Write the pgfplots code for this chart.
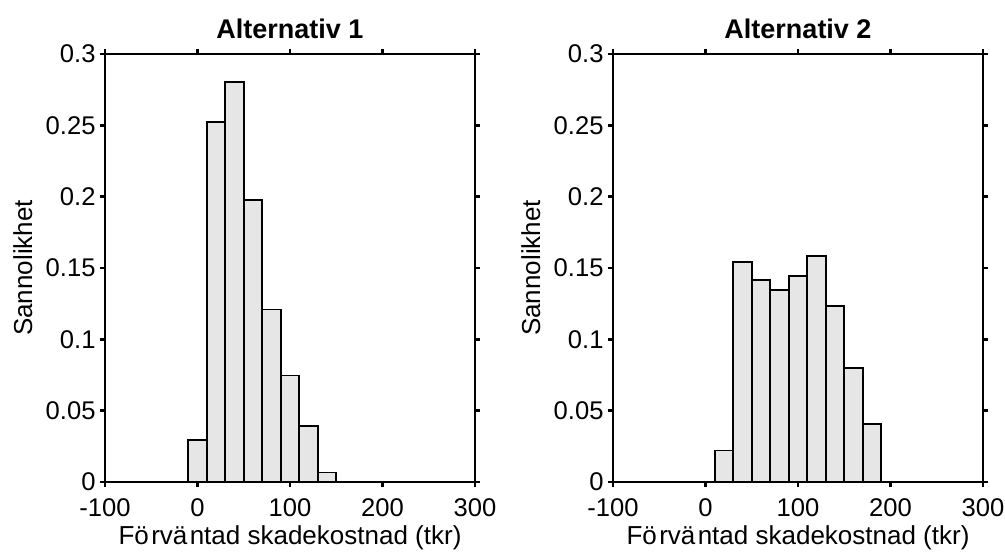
\documentclass[border=0pt]{standalone}
\usepackage{pgfplots}
\pgfplotsset{compat=1.18}
\usepackage{fontspec}
\setmainfont{Liberation Sans}
\definecolor{barfill}{HTML}{E6E6E6}
\pgfplotsset{
  hist/.style={
    scale only axis,
    width=185pt, height=214pt,
    xmin=-100, xmax=300, ymin=0, ymax=0.3,
    xtick={-100,0,100,200,300},
    ytick={0,0.05,0.1,0.15,0.2,0.25,0.3},
    scaled y ticks=false,
    yticklabel style={/pgf/number format/fixed,/pgf/number format/precision=2, xshift=1.5pt},
    xticklabel style={yshift=-2pt},
    /pgf/number format/assume math mode=true,
    tick align=outside,
    major tick length=2.7pt,
    axis line style={line width=1.2pt},
    every tick/.style={black, line width=1.2pt},
    tick label style={font=\fontsize{12.8}{14}\selectfont},
    label style={font=\fontsize{13}{15}\selectfont},
    xlabel={F\"o\kern1.2pt rv\"a\kern1.2pt ntad skadekostnad (tkr)},
    ylabel={Sannolikhet},
    xlabel style={at={(axis description cs:0.5,-0.145)}, anchor=base},
    ylabel style={at={(axis description cs:-0.197,0.5)}, anchor=base},
    title style={at={(axis description cs:0.5,1.037)}, anchor=base, yshift=-6pt, font=\fontsize{13.5}{15}\selectfont\bfseries},
  }
}
\begin{document}
\begin{tikzpicture}
\path[use as bounding box] (-52.5pt,-34.5pt) rectangle (450pt,241pt);
\begin{axis}[hist, at={(0pt,0pt)}, anchor=south west, title={Alternativ 1}]
\addplot[ybar interval, fill=barfill, draw=black, line width=0.9pt] coordinates {
(-10,0.0297) (10,0.2525) (30,0.2806) (50,0.1976) (70,0.1209) (90,0.0746) (110,0.0393) (130,0.0066) (150,0)
};
\end{axis}
\begin{axis}[hist, at={(254pt,0pt)}, anchor=south west, title={Alternativ 2}]
\addplot[ybar interval, fill=barfill, draw=black, line width=0.9pt] coordinates {
(10,0.0221) (30,0.1540) (50,0.1414) (70,0.1344) (90,0.1444) (110,0.1585) (130,0.1232) (150,0.0799) (170,0.0406) (190,0)
};
\end{axis}
\end{tikzpicture}
\end{document}
